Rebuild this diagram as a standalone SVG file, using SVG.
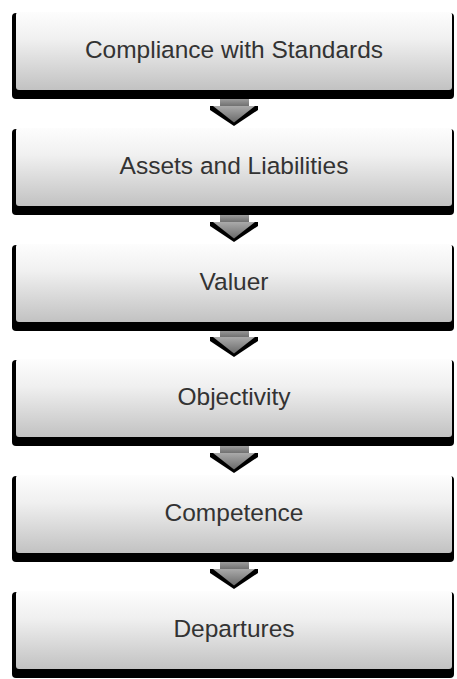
<svg xmlns="http://www.w3.org/2000/svg" width="457" height="679" viewBox="0 0 457 679">
<defs>
<linearGradient id="boxg" x1="0" y1="0" x2="0" y2="1">
<stop offset="0" stop-color="#fdfdfd"/>
<stop offset="0.35" stop-color="#f0f0f0"/>
<stop offset="1" stop-color="#c2c2c2"/>
</linearGradient>
<linearGradient id="arrg" x1="0" y1="0" x2="0" y2="1">
<stop offset="0" stop-color="#aaaaaa"/>
<stop offset="1" stop-color="#6a6a6a"/>
</linearGradient>
<style>
.sh{fill:#000}
.bx{fill:url(#boxg)}
.lb{font-family:"Liberation Sans",Arial,sans-serif;font-size:24.5px;fill:#333333;text-anchor:middle}
.ab{fill:#000}
.af{fill:url(#arrg)}
</style>
</defs>
<g id="connectors">
<g id="arrow1" transform="translate(0,128)"><rect class="af" x="220" y="-31" width="29" height="10"/><polygon class="ab" points="210,-22 258,-22 258,-18 234,-2 210,-18"/><polygon class="af" points="213,-22 255,-22 234,-5.5"/></g>
<g id="arrow2" transform="translate(0,244)"><rect class="af" x="220" y="-31" width="29" height="10"/><polygon class="ab" points="210,-22 258,-22 258,-18 234,-2 210,-18"/><polygon class="af" points="213,-22 255,-22 234,-5.5"/></g>
<g id="arrow3" transform="translate(0,359)"><rect class="af" x="220" y="-31" width="29" height="10"/><polygon class="ab" points="210,-22 258,-22 258,-18 234,-2 210,-18"/><polygon class="af" points="213,-22 255,-22 234,-5.5"/></g>
<g id="arrow4" transform="translate(0,475)"><rect class="af" x="220" y="-31" width="29" height="10"/><polygon class="ab" points="210,-22 258,-22 258,-18 234,-2 210,-18"/><polygon class="af" points="213,-22 255,-22 234,-5.5"/></g>
<g id="arrow5" transform="translate(0,591)"><rect class="af" x="220" y="-31" width="29" height="10"/><polygon class="ab" points="210,-22 258,-22 258,-18 234,-2 210,-18"/><polygon class="af" points="213,-22 255,-22 234,-5.5"/></g>
</g>
<g id="node1" transform="translate(0,12)"><rect class="sh" x="12" y="1" width="442" height="86" rx="4"/><rect class="bx" x="16" y="0" width="436" height="78" rx="3"/><text class="lb" x="234" y="46">Compliance with Standards</text></g>
<g id="node2" transform="translate(0,128)"><rect class="sh" x="12" y="1" width="442" height="86" rx="4"/><rect class="bx" x="16" y="0" width="436" height="78" rx="3"/><text class="lb" x="234" y="46">Assets and Liabilities</text></g>
<g id="node3" transform="translate(0,244)"><rect class="sh" x="12" y="1" width="442" height="86" rx="4"/><rect class="bx" x="16" y="0" width="436" height="78" rx="3"/><text class="lb" x="234" y="46">Valuer</text></g>
<g id="node4" transform="translate(0,359)"><rect class="sh" x="12" y="1" width="442" height="86" rx="4"/><rect class="bx" x="16" y="0" width="436" height="78" rx="3"/><text class="lb" x="234" y="46">Objectivity</text></g>
<g id="node5" transform="translate(0,475)"><rect class="sh" x="12" y="1" width="442" height="86" rx="4"/><rect class="bx" x="16" y="0" width="436" height="78" rx="3"/><text class="lb" x="234" y="46">Competence</text></g>
<g id="node6" transform="translate(0,591)"><rect class="sh" x="12" y="1" width="442" height="86" rx="4"/><rect class="bx" x="16" y="0" width="436" height="78" rx="3"/><text class="lb" x="234" y="46">Departures</text></g>
</svg>
